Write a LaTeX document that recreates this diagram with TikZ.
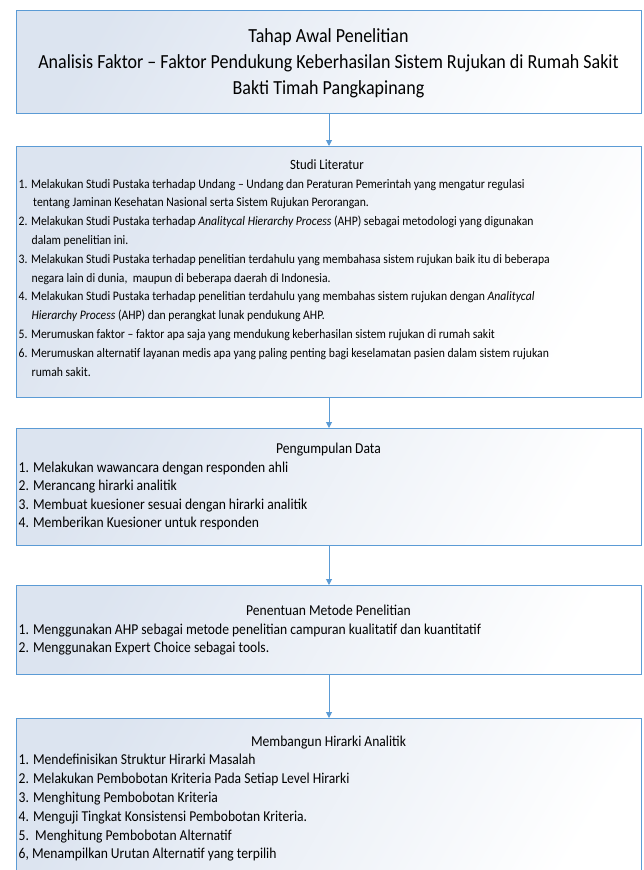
\documentclass[tikz,border=0pt]{standalone}
\usepackage{fontspec}
\setmainfont{Carlito}[FakeStretch=0.9]
\usetikzlibrary{arrows.meta}
\definecolor{bord}{RGB}{91,155,213}
\definecolor{shadec}{RGB}{220,228,240}
\tikzset{
  box/.style={draw=bord, line width=1pt, left color=shadec, right color=white, shading angle=60,
    minimum width=625pt, anchor=north west, inner sep=0pt},
  arr/.style={draw=bord, line width=1pt, -{Triangle[width=6pt,length=6pt]}},
  body/.style={anchor=base west, inner sep=0pt, font=\fontsize{13}{15}\selectfont},
  head/.style={anchor=base, inner sep=0pt, font=\fontsize{14.2}{16}\selectfont},
  bodyl/.style={anchor=base west, inner sep=0pt, font=\fontsize{15.1}{17}\selectfont},
  headl/.style={anchor=base, inner sep=0pt, font=\fontsize{15.1}{17}\selectfont},
  big/.style={anchor=base, inner sep=0pt, font=\fontsize{20}{24}\selectfont},
}
\begin{document}
\begin{tikzpicture}[x=1pt,y=-1pt]
\useasboundingbox (0,0) rectangle (644,870);
\clip (0,0) rectangle (644,870);
% boxes
\node[box, minimum height=103pt] (b1) at (16,10) {};
\node[box, minimum height=251pt] (b2) at (16,146) {};
\node[box, minimum height=117pt] (b3) at (16,428) {};
\node[box, minimum height=89pt] (b4) at (16,585) {};
\node[box, minimum height=190pt] (b5) at (16,718) {};
% arrows
\draw[arr] (b1.south) -- (b2.north);
\draw[arr] (b2.south) -- (b3.north);
\draw[arr] (b3.south) -- (b4.north);
\draw[arr] (b4.south) -- (b5.north);
% box 1
\node[big] (t1a) at (328.5,42.5) {Tahap Awal Penelitian};
\node[big] (t1b) at (328.5,68.5) {Analisis Faktor – Faktor Pendukung Keberhasilan Sistem Rujukan di Rumah Sakit};
\node[big] (t1c) at (328.5,94.5) {Bakti Timah Pangkapinang};
% box 2
\node[head] (t2h) at (327,169) {Studi Literatur};
\node[body] (t2a) at (18.5,188) {1. Melakukan Studi Pustaka terhadap Undang – Undang dan Peraturan Pemerintah yang mengatur regulasi};
\node[body] (t2b) at (33,206.8) {tentang Jaminan Kesehatan Nasional serta Sistem Rujukan Perorangan.};
\node[body] (t2c) at (18.5,225.6) {2. Melakukan Studi Pustaka terhadap \textit{Analitycal Hierarchy Process} (AHP) sebagai metodologi yang digunakan};
\node[body] (t2d) at (31.5,244.4) {dalam penelitian ini.};
\node[body] (t2e) at (18.5,263.2) {3. Melakukan Studi Pustaka terhadap penelitian terdahulu yang membahasa sistem rujukan baik itu di beberapa};
\node[body] (t2f) at (31.5,282) {negara lain di dunia,\ \ maupun di beberapa daerah di Indonesia.};
\node[body] (t2g) at (18.5,300.8) {4. Melakukan Studi Pustaka terhadap penelitian terdahulu yang membahas sistem rujukan dengan \textit{Analitycal}};
\node[body] (t2h2) at (31.5,319.6) {\textit{Hierarchy Process} (AHP) dan perangkat lunak pendukung AHP.};
\node[body] (t2i) at (18.5,338.4) {5. Merumuskan faktor – faktor apa saja yang mendukung keberhasilan sistem rujukan di rumah sakit};
\node[body] (t2j) at (18.5,357.2) {6. Merumuskan alternatif layanan medis apa yang paling penting bagi keselamatan pasien dalam sistem rujukan};
\node[body] (t2k) at (31.5,376) {rumah sakit.};
% box 3
\node[headl] (t3h) at (328.5,453.6) {Pengumpulan Data};
\node[bodyl] (t3a) at (18.5,472) {1. Melakukan wawancara dengan responden ahli};
\node[bodyl] (t3b) at (18.5,490.6) {2. Merancang hirarki analitik};
\node[bodyl] (t3c) at (18.5,509) {3. Membuat kuesioner sesuai dengan hirarki analitik};
\node[bodyl] (t3d) at (18.5,527.6) {4. Memberikan Kuesioner untuk responden};
% box 4
\node[headl] (t4h) at (328.5,615.6) {Penentuan Metode Penelitian};
\node[bodyl] (t4a) at (18.5,634.6) {1. Menggunakan AHP sebagai metode penelitian campuran kualitatif dan kuantitatif};
\node[bodyl] (t4b) at (18.5,652.6) {2. Menggunakan Expert Choice sebagai tools.};
% box 5
\node[headl] (t5h) at (328.5,746.6) {Membangun Hirarki Analitik};
\node[bodyl] (t5a) at (18.5,764.6) {1. Mendefinisikan Struktur Hirarki Masalah};
\node[bodyl] (t5b) at (18.5,783.6) {2. Melakukan Pembobotan Kriteria Pada Setiap Level Hirarki};
\node[bodyl] (t5c) at (18.5,802.6) {3. Menghitung Pembobotan Kriteria};
\node[bodyl] (t5d) at (18.5,821.6) {4. Menguji Tingkat Konsistensi Pembobotan Kriteria.};
\node[bodyl] (t5e) at (18.5,840.6) {5.\ \ Menghitung Pembobotan Alternatif};
\node[bodyl] (t5f) at (18.5,858.6) {6, Menampilkan Urutan Alternatif yang terpilih};
\end{tikzpicture}
\end{document}
